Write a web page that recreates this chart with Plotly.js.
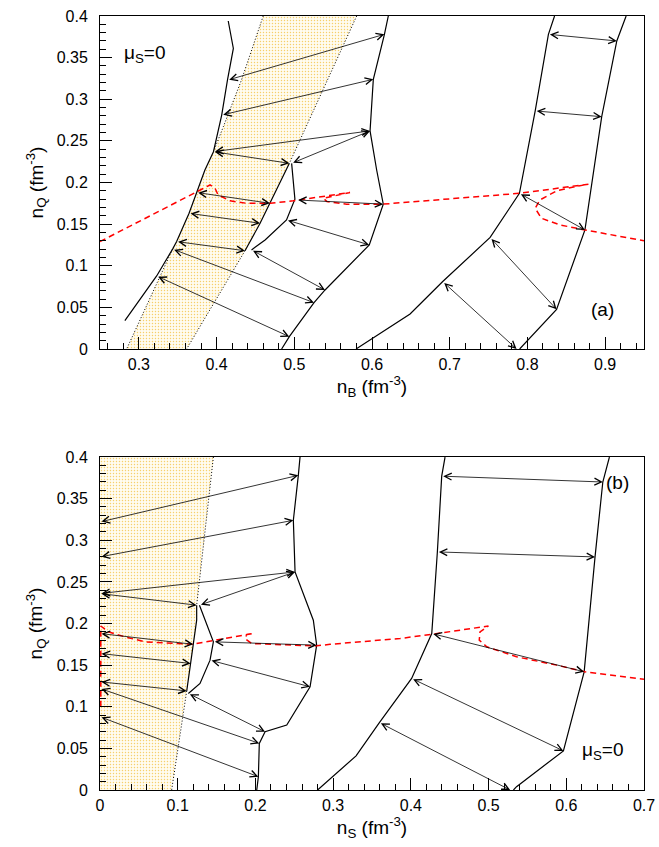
<!DOCTYPE html>
<html><head><meta charset="utf-8">
<script src="https://cdn.plot.ly/plotly-3.0.1.min.js"></script>
<style>html,body{margin:0;padding:0;background:#fff}</style>
</head><body><div id="chart" style="width:659px;height:847px"></div>
<script>
// ================= Panel (a): x = n_B (fm^-3), y = n_Q (fm^-3) =================
const aLeftX = [0.415,0.4216,0.414,0.4066,0.396,0.385,0.3744,0.3646,0.3486,0.3434,0.3229,0.282];
const aLeftY = [0.394,0.361,0.323,0.281,0.237,0.215,0.188,0.163,0.129,0.120,0.0877,0.034];
const aMidX = [0.621,0.616,0.6017,0.5975,0.606,0.6145,0.5965,0.5396,0.5254,0.4936,0.4837];
const aMidY = [0.400,0.378,0.324,0.262,0.215,0.174,0.125,0.0709,0.0556,0.0148,0.0];
const aInnerX = [0.4966,0.5008,0.490,0.4624,0.445];
const aInnerY = [0.223,0.180,0.155,0.131,0.119];
const aRLX = [0.8349,0.827,0.81,0.7897,0.752,0.691,0.649,0.6104,0.5795];
const aRLY = [0.400,0.378,0.286,0.187,0.134,0.081,0.042,0.019,0.0];
const aRRX = [0.927,0.915,0.8956,0.885,0.874,0.8375,0.79];
const aRRY = [0.400,0.370,0.279,0.215,0.143,0.0476,0.0];
const aBandLX = [0.46,0.432,0.4087,0.396,0.385,0.3744,0.3646,0.3486,0.3434,0.2843];
const aBandLY = [0.40,0.323,0.267,0.237,0.215,0.188,0.163,0.129,0.120,0.0];
const aBandRX = [0.5803,0.4937,0.4688,0.456,0.4366,0.3615];
const aBandRY = [0.40,0.223,0.175,0.151,0.118,0.0];
const aRedX = [0.25,0.3744,0.3916,0.398,0.402,0.4173,0.4387,0.469,0.4986,0.5717,0.5375,0.542,0.5674,0.6145,0.7897,0.8785,0.861,0.8377,0.816,0.81,0.818,0.842,0.874,0.95];
const aRedY = [0.129,0.188,0.197,0.193,0.185,0.178,0.175,0.175,0.178,0.188,0.181,0.177,0.174,0.174,0.187,0.198,0.195,0.190,0.179,0.169,0.157,0.149,0.143,0.130];
const aArrX0 = [0.4143,0.4066,0.396,0.396,0.4966,0.3744,0.3646,0.3486,0.3434,0.3229,0.503,0.490,0.445,0.827,0.81,0.7897,0.752,0.691];
const aArrY0 = [0.323,0.281,0.237,0.237,0.223,0.188,0.163,0.129,0.120,0.0877,0.179,0.155,0.119,0.378,0.286,0.187,0.134,0.081];
const aArrX1 = [0.616,0.6017,0.5975,0.4937,0.5975,0.4688,0.456,0.4366,0.5254,0.4936,0.6145,0.5965,0.5395,0.915,0.8956,0.874,0.8375,0.786];
const aArrY1 = [0.378,0.324,0.262,0.223,0.262,0.175,0.151,0.118,0.0556,0.0148,0.174,0.125,0.0709,0.370,0.279,0.143,0.0476,0.0];

// ================= Panel (b): x = n_S (fm^-3), y = n_Q (fm^-3) =================
const bMidX = [0.2574,0.2552,0.2488,0.251,0.2745,0.2788,0.2703,0.2403,0.2124,0.205,0.2038,0.2017];
const bMidY = [0.400,0.378,0.324,0.262,0.204,0.174,0.124,0.078,0.070,0.056,0.016,0.0];
const bInnerX = [0.128,0.1459,0.1416,0.1287,0.1137];
const bInnerY = [0.222,0.178,0.156,0.128,0.116];
const bRLX = [0.444,0.4397,0.4341,0.4269,0.401,0.3595,0.3295,0.296,0.28];
const bRLY = [0.400,0.377,0.286,0.188,0.134,0.081,0.041,0.014,0.0];
const bRRX = [0.6555,0.647,0.637,0.6272,0.623,0.5963,0.536,0.532];
const bRRY = [0.400,0.370,0.280,0.180,0.142,0.047,0.004,0.0];
const bBandLX = [0.0,0.0];
const bBandLY = [0.40,0.0];
const bBandRX = [0.1459,0.1244,0.1244,0.12,0.1167,0.1116,0.0922];
const bBandRY = [0.40,0.222,0.204,0.175,0.152,0.119,0.0];
const bRedX = [0.001,0.001,0.0107,0.032,0.058,0.118,0.197,0.189,0.1866,0.195,0.2767,0.296,0.386,0.4269,0.4998,0.489,0.488,0.4977,0.536,0.5877,0.624,0.70];
const bRedY = [0.100,0.197,0.190,0.184,0.178,0.175,0.188,0.187,0.182,0.176,0.173,0.175,0.182,0.187,0.197,0.190,0.180,0.172,0.160,0.150,0.142,0.133];
const bArrX0 = [0.0,0.0,0.0,0.0,0.128,0.0,0.0,0.0,0.0,0.0,0.1459,0.1416,0.1137,0.4397,0.4341,0.4269,0.401,0.3595];
const bArrY0 = [0.322,0.280,0.236,0.236,0.222,0.188,0.164,0.130,0.122,0.088,0.178,0.156,0.116,0.377,0.286,0.188,0.134,0.081];
const bArrX1 = [0.2552,0.2488,0.251,0.1244,0.251,0.12,0.1167,0.1116,0.205,0.2038,0.2788,0.2703,0.2124,0.647,0.637,0.623,0.5963,0.5277];
const bArrY1 = [0.378,0.324,0.262,0.222,0.262,0.175,0.152,0.119,0.056,0.016,0.174,0.124,0.070,0.370,0.280,0.142,0.047,0.0];

// ================= Build =================
const FONT = 'Liberation Sans, Arial, Helvetica, sans-serif';
const traces = [];
function band(lx, ly, rx, ry, xa, ya){
  const x = lx.concat(rx.slice().reverse());
  const y = ly.concat(ry.slice().reverse());
  traces.push({x:x, y:y, xaxis:xa, yaxis:ya, mode:'lines', fill:'toself',
    fillcolor:'rgba(253,243,208,1)',
    fillpattern:{shape:'.', fgcolor:'#f6cf6a', bgcolor:'#fffcf0', size:3, solidity:0.18},
    line:{width:0, color:'rgba(0,0,0,0)'}, hoverinfo:'skip'});
}
function line(x, y, xa, ya, style){
  const base = {x:x, y:y, xaxis:xa, yaxis:ya, mode:'lines', hoverinfo:'skip', cliponaxis:true};
  if(style==='solid') base.line = {color:'#000', width:1.2};
  if(style==='dot') base.line = {color:'#000', width:1, dash:'1px,2px'};
  if(style==='red') base.line = {color:'#ff0000', width:1.5, dash:'6px,4px'};
  traces.push(base);
}
// panel a
band(aBandLX, aBandLY, aBandRX, aBandRY, 'x', 'y');
line(aBandLX.slice(0,4), aBandLY.slice(0,4), 'x','y','dot');
line(aBandLX.slice(8), aBandLY.slice(8), 'x','y','dot');
line(aBandRX.slice(0,2), aBandRY.slice(0,2), 'x','y','dot');
line(aBandRX.slice(1,5), aBandRY.slice(1,5), 'x','y','solid');
line(aBandRX.slice(4), aBandRY.slice(4), 'x','y','dot');
line(aLeftX, aLeftY, 'x','y','solid');
line(aMidX, aMidY, 'x','y','solid');
line(aInnerX, aInnerY, 'x','y','solid');
line(aRLX, aRLY, 'x','y','solid');
line(aRRX, aRRY, 'x','y','solid');
line(aRedX, aRedY, 'x','y','red');
// panel b
band(bBandLX, bBandLY, bBandRX, bBandRY, 'x2', 'y2');
line(bBandRX.slice(0,2), bBandRY.slice(0,2), 'x2','y2','dot');
line(bBandRX.slice(1,6), bBandRY.slice(1,6), 'x2','y2','solid');
line(bBandRX.slice(5), bBandRY.slice(5), 'x2','y2','dot');
line(bMidX, bMidY, 'x2','y2','solid');
line(bInnerX, bInnerY, 'x2','y2','solid');
line(bRLX, bRLY, 'x2','y2','solid');
line(bRRX, bRRY, 'x2','y2','solid');
line(bRedX, bRedY, 'x2','y2','red');

const annotations = [];
function arrows(x0, y0, x1, y1, xr, yr){
  for(let i=0;i<x0.length;i++){
    annotations.push({x:x1[i], y:y1[i], ax:x0[i], ay:y0[i], xref:xr, yref:yr, axref:xr, ayref:yr,
      text:'', showarrow:true, arrowhead:5, startarrowhead:5, arrowside:'end+start',
      arrowsize:1.7, startarrowsize:1.7, arrowwidth:0.8, arrowcolor:'#000', standoff:0, startstandoff:0});
  }
}
arrows(aArrX0, aArrY0, aArrX1, aArrY1, 'x', 'y');
arrows(bArrX0, bArrY0, bArrX1, bArrY1, 'x2', 'y2');
function label(t, x, y, xr, yr){
  annotations.push({text:t, x:x, y:y, xref:xr, yref:yr, xanchor:'left', yanchor:'middle',
    showarrow:false, font:{family:FONT, size:19, color:'#000'}});
}
label('μ<sub>S</sub>=0', 0.278, 0.354, 'x', 'y');
label('(a)', 0.879, 0.047, 'x', 'y');
label('(b)', 0.648, 0.369, 'x2', 'y2');
label('μ<sub>S</sub>=0', 0.618, 0.047, 'x2', 'y2');

function axis(extra){
  return Object.assign({
    ticks:'inside', ticklen:12, tickwidth:1, tickcolor:'#000',
    showline:true, linecolor:'#000', linewidth:1, mirror:true,
    showgrid:false, zeroline:false,
    tickfont:{family:FONT, size:16, color:'#000'},
    ticklabelstandoff:1
  }, extra);
}
const xTitleFont = {family:FONT, size:19, color:'#000'};
const layout = {
  width:659, height:847,
  margin:{l:100, r:15, t:16, b:57},
  paper_bgcolor:'#fff', plot_bgcolor:'#fff',
  showlegend:false,
  xaxis: axis({domain:[0,1], anchor:'y', range:[0.25,0.95], tick0:0, dtick:0.1,
    minor:{tick0:0, dtick:0.02, ticks:'inside', ticklen:6, tickcolor:'#000'},
    title:{text:'n<sub>B</sub> (fm<sup>-3</sup>)', font:xTitleFont, standoff:0}}),
  yaxis: axis({domain:[0.5698,1], anchor:'x', range:[0,0.4], tick0:0, dtick:0.05,
    minor:{tick0:0, dtick:0.01, ticks:'inside', ticklen:6, tickcolor:'#000'},
    ticklabelstandoff:8,
    title:{text:'n<sub>Q</sub> (fm<sup>-3</sup>)', font:xTitleFont, standoff:8}}),
  xaxis2: axis({domain:[0,1], anchor:'y2', range:[0,0.7], tick0:0, dtick:0.1,
    minor:{tick0:0, dtick:0.02, ticks:'inside', ticklen:6, tickcolor:'#000'},
    title:{text:'n<sub>S</sub> (fm<sup>-3</sup>)', font:xTitleFont, standoff:0}}),
  yaxis2: axis({domain:[0,0.4302], anchor:'x2', range:[0,0.4], tick0:0, dtick:0.05,
    minor:{tick0:0, dtick:0.01, ticks:'inside', ticklen:6, tickcolor:'#000'},
    ticklabelstandoff:8,
    title:{text:'n<sub>Q</sub> (fm<sup>-3</sup>)', font:xTitleFont, standoff:8}}),
  annotations: annotations
};
Plotly.newPlot('chart', traces, layout, {staticPlot:true, displayModeBar:false});
</script>
</body></html>
